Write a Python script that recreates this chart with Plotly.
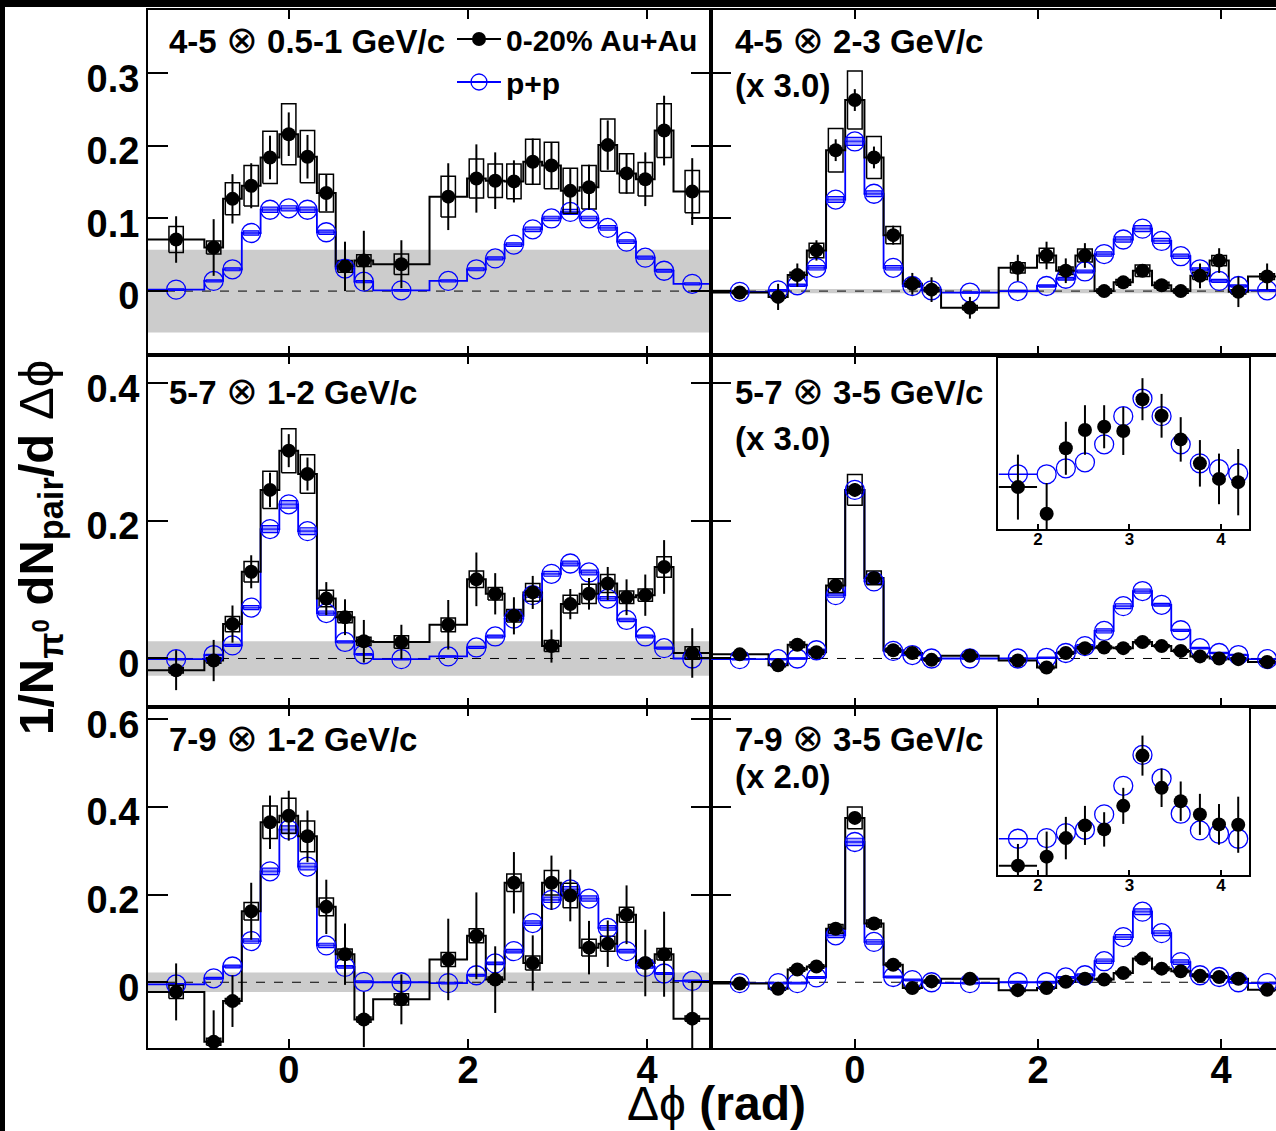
import plotly.graph_objects as go

W, H = 1276, 1131
FONT = "Liberation Sans, Arial, Helvetica, sans-serif"
BLUE = "#0000ff"

# ---------------- binning (rad) ----------------
bin_centers = [-1.257, -0.838, -0.628, -0.419, -0.209, 0.0, 0.209, 0.419, 0.628, 0.838,
               1.257, 1.780, 2.094, 2.304, 2.513, 2.723, 2.932, 3.142, 3.351, 3.560,
               3.770, 3.979, 4.189, 4.503]
bin_edges = [-1.571, -0.942, -0.733, -0.524, -0.314, -0.105, 0.105, 0.314, 0.524, 0.733,
             0.942, 1.571, 1.990, 2.199, 2.409, 2.618, 2.827, 3.037, 3.246, 3.456,
             3.665, 3.875, 4.084, 4.294, 4.712]

# ---------------- 4-5 x 0.5-1 GeV/c ----------------
aa_45_05 = [0.071, 0.060, 0.127, 0.145, 0.184, 0.216, 0.185, 0.135, 0.034, 0.042, 0.037, 0.130,
            0.155, 0.152, 0.151, 0.178, 0.173, 0.138, 0.143, 0.201, 0.162, 0.154, 0.221, 0.137]
aa_45_05_stat = [0.032, 0.039, 0.034, 0.031, 0.030, 0.030, 0.030, 0.025, 0.034, 0.041, 0.033, 0.046,
                 0.047, 0.039, 0.029, 0.032, 0.032, 0.030, 0.031, 0.034, 0.028, 0.037, 0.048, 0.046]
aa_45_05_sys = [0.018, 0.009, 0.022, 0.028, 0.036, 0.042, 0.036, 0.026, 0.008, 0.008, 0.014, 0.028,
                0.027, 0.023, 0.024, 0.031, 0.032, 0.031, 0.030, 0.036, 0.027, 0.023, 0.037, 0.029]
pp_45_05 = [0.002, 0.014, 0.030, 0.080, 0.112, 0.114, 0.112, 0.081, 0.031, 0.013, 0.001, 0.014,
            0.030, 0.045, 0.064, 0.085, 0.100, 0.109, 0.100, 0.087, 0.068, 0.046, 0.028, 0.010]
pp_45_05_sys = [0.001, 0.0015, 0.002, 0.003, 0.0035, 0.0035, 0.0035, 0.003, 0.002, 0.0015, 0.001, 0.0015,
                0.002, 0.002, 0.0025, 0.003, 0.003, 0.0035, 0.003, 0.003, 0.0025, 0.002, 0.002, 0.0015]

# ---------------- 4-5 x 2-3 GeV/c (x 3.0) ----------------
aa_45_23 = [-0.002, -0.008, 0.022, 0.056, 0.194, 0.263, 0.184, 0.077, 0.010, 0.002, -0.023, 0.032,
            0.049, 0.028, 0.049, 0.000, 0.012, 0.028, 0.008, 0.000, 0.021, 0.042, -0.001, 0.020]
aa_45_23_stat = [0.008, 0.018, 0.016, 0.014, 0.015, 0.015, 0.015, 0.013, 0.015, 0.017, 0.015, 0.018,
                 0.019, 0.017, 0.017, 0.008, 0.008, 0.008, 0.008, 0.008, 0.017, 0.017, 0.021, 0.018]
aa_45_23_sys = [0.002, 0.002, 0.004, 0.010, 0.030, 0.040, 0.029, 0.012, 0.004, 0.003, 0.003, 0.007,
                0.010, 0.005, 0.009, 0.003, 0.004, 0.008, 0.004, 0.003, 0.005, 0.007, 0.003, 0.004]
pp_45_23 = [-0.001, 0.001, 0.008, 0.032, 0.126, 0.206, 0.134, 0.032, 0.007, 0.001, -0.002, 0.000,
            0.007, 0.017, 0.027, 0.051, 0.071, 0.086, 0.069, 0.048, 0.030, 0.014, 0.007, 0.001]
pp_45_23_sys = [0.001, 0.001, 0.0015, 0.003, 0.004, 0.0055, 0.004, 0.003, 0.0015, 0.001, 0.001, 0.001,
                0.0015, 0.002, 0.002, 0.003, 0.0035, 0.004, 0.0035, 0.003, 0.002, 0.002, 0.0015, 0.001]

# ---------------- 5-7 x 1-2 GeV/c ----------------
aa_57_12 = [-0.017, -0.003, 0.050, 0.126, 0.245, 0.302, 0.268, 0.087, 0.060, 0.025, 0.024, 0.049,
            0.115, 0.094, 0.062, 0.096, 0.018, 0.079, 0.094, 0.109, 0.089, 0.092, 0.133, 0.008]
aa_57_12_stat = [0.029, 0.030, 0.027, 0.024, 0.025, 0.024, 0.024, 0.024, 0.026, 0.031, 0.025, 0.036,
                 0.039, 0.030, 0.027, 0.024, 0.024, 0.022, 0.023, 0.024, 0.026, 0.030, 0.039, 0.036]
aa_57_12_sys = [0.004, 0.004, 0.011, 0.015, 0.027, 0.032, 0.028, 0.012, 0.008, 0.006, 0.009, 0.010,
                0.012, 0.009, 0.009, 0.013, 0.008, 0.013, 0.014, 0.013, 0.009, 0.009, 0.015, 0.009]
pp_57_12 = [-0.001, 0.005, 0.019, 0.074, 0.188, 0.224, 0.185, 0.066, 0.024, 0.006, -0.001, 0.003,
            0.016, 0.032, 0.058, 0.092, 0.123, 0.138, 0.125, 0.087, 0.056, 0.032, 0.015, 0.000]
pp_57_12_sys = [0.001, 0.001, 0.0015, 0.003, 0.005, 0.0055, 0.005, 0.003, 0.0015, 0.001, 0.001, 0.001,
                0.0015, 0.002, 0.0025, 0.003, 0.0035, 0.0035, 0.0035, 0.003, 0.0025, 0.002, 0.0015, 0.001]

# ---------------- 5-7 x 3-5 GeV/c (x 3.0) ----------------
aa_57_35 = [0.006, -0.010, 0.020, 0.009, 0.106, 0.245, 0.117, 0.012, 0.008, -0.002, 0.004, -0.003,
            -0.013, 0.008, 0.015, 0.016, 0.015, 0.024, 0.018, 0.011, 0.003, 0.000, -0.001, -0.005]
aa_57_35_stat = [0.006, 0.008, 0.007, 0.006, 0.008, 0.010, 0.008, 0.006, 0.006, 0.006, 0.006, 0.006,
                 0.008, 0.006, 0.006, 0.006, 0.006, 0.006, 0.006, 0.006, 0.006, 0.006, 0.006, 0.006]
aa_57_35_sys = [0.002, 0.002, 0.004, 0.003, 0.010, 0.0225, 0.010, 0.003, 0.002, 0.002, 0.002, 0.002,
                0.002, 0.002, 0.002, 0.002, 0.002, 0.003, 0.002, 0.002, 0.002, 0.002, 0.002, 0.002]
pp_57_35 = [-0.001, -0.001, 0.000, 0.012, 0.092, 0.245, 0.112, 0.011, 0.005, 0.000, 0.000, 0.000,
            0.001, 0.008, 0.018, 0.040, 0.076, 0.098, 0.078, 0.041, 0.015, 0.008, 0.005, -0.001]
pp_57_35_sys = [0.001, 0.001, 0.001, 0.0015, 0.003, 0.005, 0.003, 0.0015, 0.001, 0.001, 0.001, 0.001,
                0.001, 0.0015, 0.002, 0.003, 0.0035, 0.003, 0.002, 0.0015, 0.001, 0.001, 0.001, 0.001]

# ---------------- 7-9 x 1-2 GeV/c ----------------
aa_79_12 = [-0.022, -0.136, -0.043, 0.162, 0.365, 0.380, 0.333, 0.172, 0.064, -0.085, -0.039, 0.052,
            0.106, 0.006, 0.227, 0.044, 0.227, 0.198, 0.079, 0.088, 0.154, 0.044, 0.064, -0.083]
aa_79_12_stat = [0.065, 0.072, 0.059, 0.065, 0.061, 0.057, 0.059, 0.062, 0.070, 0.063, 0.057, 0.093,
                 0.099, 0.076, 0.070, 0.063, 0.062, 0.059, 0.061, 0.053, 0.067, 0.076, 0.097, 0.084]
aa_79_12_sys = [0.015, 0.008, 0.006, 0.020, 0.037, 0.040, 0.035, 0.020, 0.012, 0.006, 0.013, 0.016,
                0.016, 0.006, 0.020, 0.016, 0.028, 0.028, 0.019, 0.017, 0.017, 0.006, 0.013, 0.006]
pp_79_12 = [-0.005, 0.009, 0.036, 0.094, 0.253, 0.348, 0.264, 0.084, 0.035, 0.001, 0.000, -0.002,
            0.016, 0.043, 0.071, 0.135, 0.188, 0.212, 0.191, 0.124, 0.071, 0.035, 0.020, 0.003]
pp_79_12_sys = [0.002, 0.002, 0.003, 0.005, 0.0075, 0.009, 0.0075, 0.005, 0.003, 0.002, 0.002, 0.002,
                0.002, 0.003, 0.004, 0.005, 0.006, 0.006, 0.006, 0.005, 0.004, 0.003, 0.002, 0.002]

# ---------------- 7-9 x 3-5 GeV/c (x 2.0) ----------------
aa_79_35 = [-0.003, -0.015, 0.029, 0.036, 0.122, 0.375, 0.134, 0.040, -0.013, 0.002, 0.008, -0.018,
            -0.013, 0.001, 0.008, 0.006, 0.021, 0.054, 0.031, 0.025, 0.015, 0.012, 0.008, -0.017]
aa_79_35_stat = [0.012, 0.012, 0.012, 0.012, 0.012, 0.014, 0.012, 0.012, 0.012, 0.012, 0.012, 0.012,
                 0.012, 0.012, 0.012, 0.012, 0.012, 0.012, 0.012, 0.012, 0.012, 0.012, 0.012, 0.012]
aa_79_35_sys = [0.003, 0.003, 0.004, 0.004, 0.010, 0.025, 0.008, 0.004, 0.003, 0.003, 0.003, 0.003,
                0.003, 0.003, 0.003, 0.003, 0.004, 0.005, 0.004, 0.003, 0.003, 0.003, 0.003, 0.003]
pp_79_35 = [-0.002, -0.002, -0.002, 0.011, 0.107, 0.320, 0.092, 0.012, 0.005, 0.000, -0.002, 0.000,
            0.000, 0.011, 0.016, 0.048, 0.103, 0.161, 0.112, 0.046, 0.016, 0.012, 0.000, -0.002]
pp_79_35_sys = [0.002, 0.002, 0.002, 0.002, 0.005, 0.0085, 0.005, 0.002, 0.002, 0.002, 0.002, 0.002,
                0.002, 0.002, 0.003, 0.005, 0.0055, 0.0065, 0.0055, 0.005, 0.003, 0.002, 0.002, 0.002]

# ---------------- insets (away side, arbitrary units) ----------------
inset_x = [1.780, 2.094, 2.304, 2.513, 2.723, 2.932, 3.142, 3.351, 3.560, 3.770, 3.979, 4.189]
inset_xerr = [0.209, 0, 0, 0, 0, 0, 0, 0, 0, 0, 0, 0]
inset_57_aa = [0.245, 0.089, 0.472, 0.579, 0.598, 0.573, 0.759, 0.662, 0.524, 0.384, 0.293, 0.274]
inset_57_aa_err = [0.19, 0.18, 0.155, 0.145, 0.126, 0.14, 0.123, 0.128, 0.13, 0.136, 0.148, 0.194]
inset_57_pp = [0.320, 0.320, 0.355, 0.390, 0.495, 0.660, 0.763, 0.660, 0.495, 0.384, 0.350, 0.326]
inset_79_aa = [0.056, 0.110, 0.221, 0.297, 0.273, 0.414, 0.715, 0.522, 0.442, 0.363, 0.303, 0.301]
inset_79_aa_err = [0.13, 0.15, 0.127, 0.117, 0.103, 0.108, 0.12, 0.115, 0.118, 0.123, 0.122, 0.168]
inset_79_pp = [0.217, 0.221, 0.251, 0.271, 0.363, 0.534, 0.719, 0.578, 0.367, 0.267, 0.247, 0.217]

# ---------------- axes / labels ----------------
norm_band_left = [0.057, 0.025, 0.022]
norm_band_right = [0.003, 0.0, 0.0]
row_ranges = [[-0.088, 0.387], [-0.0705, 0.441], [-0.150, 0.628]]
row_tickvals = [[0, 0.1, 0.2, 0.3], [0, 0.2, 0.4], [0, 0.2, 0.4, 0.6]]
row_ticktext = [["0", "0.1", "0.2", "0.3"], ["0", "0.2", "0.4"], ["0", "0.2", "0.4", "0.6"]]
x_tickvals = [0, 2, 4]
x_ticktext = ["0", "2", "4"]
x_range_left = [-1.5708, 4.7124]
x_range_right = [-1.5708, 4.60]
inset_tickvals = [2, 3, 4]
inset_ticktext = ["2", "3", "4"]

OT = "<span style='font-weight:normal;font-size:38px'>⊗</span>"
panel_titles = ["4-5 " + OT + " 0.5-1 GeV/c", "4-5 " + OT + " 2-3 GeV/c",
                "5-7 " + OT + " 1-2 GeV/c", "5-7 " + OT + " 3-5 GeV/c",
                "7-9 " + OT + " 1-2 GeV/c", "7-9 " + OT + " 3-5 GeV/c"]
panel_scales = ["", "(x 3.0)", "", "(x 3.0)", "", "(x 2.0)"]

panels = [
    (aa_45_05, aa_45_05_stat, aa_45_05_sys, pp_45_05, pp_45_05_sys),
    (aa_45_23, aa_45_23_stat, aa_45_23_sys, pp_45_23, pp_45_23_sys),
    (aa_57_12, aa_57_12_stat, aa_57_12_sys, pp_57_12, pp_57_12_sys),
    (aa_57_35, aa_57_35_stat, aa_57_35_sys, pp_57_35, pp_57_35_sys),
    (aa_79_12, aa_79_12_stat, aa_79_12_sys, pp_79_12, pp_79_12_sys),
    (aa_79_35, aa_79_35_stat, aa_79_35_sys, pp_79_35, pp_79_35_sys),
]

# ---------------- geometry (pixels -> paper) ----------------
def fx(p):
    return p / W


def fy(p):
    return 1 - p / H


col_dom = [[fx(148), fx(711)], [fx(711), 1.0]]
row_dom = [[fy(355), fy(10)], [fy(707), fy(355)], [fy(1048), fy(707)]]
inset_xdom = [fx(998), fx(1249)]
inset_ydoms = [[fy(529), fy(358)], [fy(875), fy(708)]]

AA_BOX_HALF = 0.08
PP_BOX_HALF = 0.085


def step_xy(edges, vals):
    return list(edges), list(vals) + [vals[-1]]


def box_path(xc, yv, hs, halfw):
    xs, ys = [], []
    for c, v, s in zip(xc, yv, hs):
        xs += [c - halfw, c + halfw, c + halfw, c - halfw, c - halfw, None]
        ys += [v - s, v - s, v + s, v + s, v - s, None]
    return xs, ys


fig = go.Figure()
shapes = []
annotations = []

for i, (aa, aa_stat, aa_sys, pp, pp_sys) in enumerate(panels):
    n = i + 1
    xa = "x" if n == 1 else f"x{n}"
    ya = "y" if n == 1 else f"y{n}"
    common = dict(xaxis=xa, yaxis=ya, showlegend=False, hoverinfo="skip")
    sx, sy = step_xy(bin_edges, pp)
    fig.add_trace(go.Scatter(x=sx, y=sy, mode="lines", line=dict(color=BLUE, width=1.8, shape="hv"), **common))
    sx, sy = step_xy(bin_edges, aa)
    fig.add_trace(go.Scatter(x=sx, y=sy, mode="lines", line=dict(color="black", width=2, shape="hv"), **common))
    bx, by = box_path(bin_centers, pp, pp_sys, PP_BOX_HALF)
    fig.add_trace(go.Scatter(x=bx, y=by, mode="lines", fill="toself", fillcolor="rgba(90,90,255,0.55)",
                             line=dict(color=BLUE, width=1.2), **common))
    bx, by = box_path(bin_centers, aa, aa_sys, AA_BOX_HALF)
    fig.add_trace(go.Scatter(x=bx, y=by, mode="lines", line=dict(color="black", width=1.5), **common))
    fig.add_trace(go.Scatter(x=bin_centers, y=pp, mode="markers",
                             marker=dict(symbol="circle-open", size=19, color=BLUE, line=dict(width=1.3, color=BLUE)),
                             **common))
    fig.add_trace(go.Scatter(x=bin_centers, y=aa, mode="markers",
                             marker=dict(symbol="circle", size=14, color="black"),
                             error_y=dict(type="data", array=aa_stat, width=0, thickness=2, color="black"),
                             **common))

# insets
for k, (iaa, ierr, ipp) in enumerate([(inset_57_aa, inset_57_aa_err, inset_57_pp),
                                      (inset_79_aa, inset_79_aa_err, inset_79_pp)]):
    n = 7 + k
    common = dict(xaxis=f"x{n}", yaxis=f"y{n}", showlegend=False, hoverinfo="skip")
    fig.add_trace(go.Scatter(x=inset_x, y=ipp, mode="markers",
                             marker=dict(symbol="circle-open", size=19, color=BLUE, line=dict(width=1.3, color=BLUE)),
                             error_x=dict(type="data", array=inset_xerr, width=0, thickness=1.5, color=BLUE),
                             **common))
    fig.add_trace(go.Scatter(x=inset_x, y=iaa, mode="markers",
                             marker=dict(symbol="circle", size=14, color="black"),
                             error_y=dict(type="data", array=ierr, width=0, thickness=2, color="black"),
                             error_x=dict(type="data", array=inset_xerr, width=0, thickness=2, color="black"),
                             **common))

# legend entries
fig.add_trace(go.Scatter(x=[None], y=[None], mode="lines+markers", name="0-20% Au+Au", legendgroup="aa",
                         line=dict(color="black", width=2), marker=dict(symbol="circle", size=14, color="black")))
fig.add_trace(go.Scatter(x=[None], y=[None], mode="lines+markers", name="p+p", legendgroup="pp",
                         line=dict(color=BLUE, width=2),
                         marker=dict(symbol="circle-open", size=16, color=BLUE, line=dict(width=1.3, color=BLUE))))

tick_font = dict(family=FONT, size=38, color="black", weight="bold")
TITLE_FONT = dict(family=FONT, size=33, color="black", weight="bold")
lay = {}
for i in range(6):
    n = i + 1
    col, row = i % 2, i // 2
    xkey = "xaxis" if n == 1 else f"xaxis{n}"
    ykey = "yaxis" if n == 1 else f"yaxis{n}"
    xa = "x" if n == 1 else f"x{n}"
    ya = "y" if n == 1 else f"y{n}"
    lay[xkey] = dict(domain=col_dom[col], range=x_range_left if col == 0 else x_range_right, anchor=ya,
                     tickvals=x_tickvals, ticktext=x_ticktext, showticklabels=(row == 2),
                     ticks="inside", ticklen=9, tickwidth=2, tickcolor="black",
                     showline=True, linewidth=2, linecolor="black", mirror="ticks",
                     showgrid=False, zeroline=False, tickfont=tick_font, ticklabelstandoff=-13,
                     automargin=False)
    lay[ykey] = dict(domain=row_dom[row], range=row_ranges[row], anchor=xa,
                     tickvals=row_tickvals[row], ticktext=row_ticktext[row], showticklabels=(col == 0),
                     ticks="inside", ticklen=20, tickwidth=2, tickcolor="black",
                     showline=True, linewidth=2, linecolor="black",
                     mirror=("ticks" if col == 0 else False),
                     showgrid=False, zeroline=False, tickfont=tick_font, ticklabelstandoff=-1,
                     ticklabelshift=5, automargin=False)
    band = norm_band_left[row] if col == 0 else norm_band_right[row]
    if band > 0:
        shapes.append(dict(type="rect", xref=f"{xa} domain", yref=ya, x0=0, x1=1, y0=-band, y1=band,
                           fillcolor="#cccccc", line=dict(width=0), layer="below"))
    shapes.append(dict(type="line", xref=f"{xa} domain", yref=ya, x0=0, x1=1, y0=0, y1=0,
                       line=dict(color="black", width=1, dash="dash"), layer="below"))
    tx = 167 if col == 0 else 733
    ty = [40, 391, 738][row]
    annotations.append(dict(text=panel_titles[i], xref="paper", yref="paper", x=fx(tx), y=fy(ty),
                            xanchor="left", yanchor="middle", showarrow=False, font=TITLE_FONT))
    if panel_scales[i]:
        sy_ = [85, 438, 776][row]
        annotations.append(dict(text=panel_scales[i], xref="paper", yref="paper", x=fx(tx), y=fy(sy_),
                                xanchor="left", yanchor="middle", showarrow=False, font=TITLE_FONT))

# right-edge tick stubs on the right column
for j, base in enumerate([2, 4, 6]):
    row = j
    lay[f"yaxis{9 + j}"] = dict(overlaying=f"y{base}", anchor=f"x{base}", side="right",
                                range=row_ranges[row], tickvals=row_tickvals[row], showticklabels=False,
                                ticks="inside", ticklen=20, tickwidth=2, tickcolor="black",
                                showline=False, showgrid=False, zeroline=False, automargin=False)

# inset axes
for k in range(2):
    n = 7 + k
    lay[f"xaxis{n}"] = dict(domain=inset_xdom, range=[1.562, 4.307], anchor=f"y{n}",
                            tickvals=inset_tickvals, ticktext=inset_ticktext, ticks="inside", ticklen=5,
                            tickwidth=1.5, tickcolor="black", showline=True, linewidth=1.5, linecolor="black",
                            mirror=True, showgrid=False, zeroline=False, ticklabelstandoff=-6,
                            tickfont=dict(family=FONT, size=17, color="black", weight="bold"), automargin=False)
    lay[f"yaxis{n}"] = dict(domain=inset_ydoms[k], range=[0, 1], anchor=f"x{n}", showticklabels=False,
                            ticks="", showline=True, linewidth=1.5, linecolor="black", mirror=True,
                            showgrid=False, zeroline=False, automargin=False)

# axis titles
annotations.append(dict(text="<span style='font-weight:normal'>Δϕ</span> (rad)", xref="paper", yref="paper",
                        x=fx(716), y=fy(1103), xanchor="center", yanchor="middle", showarrow=False,
                        font=dict(family=FONT, size=48, color="black", weight="bold")))
annotations.append(dict(text="1/N<sub>π<sup>0</sup></sub> dN<sub>pair</sub>/d <span style='font-weight:normal'>Δϕ</span>",
                        xref="paper", yref="paper", x=fx(39), y=fy(548), xanchor="center", yanchor="middle",
                        textangle=-90, showarrow=False,
                        font=dict(family=FONT, size=49, color="black", weight="bold")))

# outer black border (top and left)
shapes.append(dict(type="rect", xref="paper", yref="paper", x0=0, x1=fx(5), y0=0, y1=1,
                   fillcolor="black", line=dict(width=0), layer="above"))
shapes.append(dict(type="rect", xref="paper", yref="paper", x0=0, x1=1, y0=fy(7), y1=1,
                   fillcolor="black", line=dict(width=0), layer="above"))

fig.update_layout(
    width=W, height=H, autosize=False,
    margin=dict(l=0, r=0, t=0, b=0, pad=0),
    paper_bgcolor="white", plot_bgcolor="white",
    shapes=shapes, annotations=annotations,
    showlegend=True,
    legend=dict(x=fx(452), y=fy(13), xanchor="left", yanchor="top", bgcolor="rgba(0,0,0,0)",
                font=dict(family=FONT, size=30, color="black", weight="bold"),
                itemwidth=44, tracegroupgap=1, traceorder="grouped"),
    **lay,
)

fig.write_html("out.html")
